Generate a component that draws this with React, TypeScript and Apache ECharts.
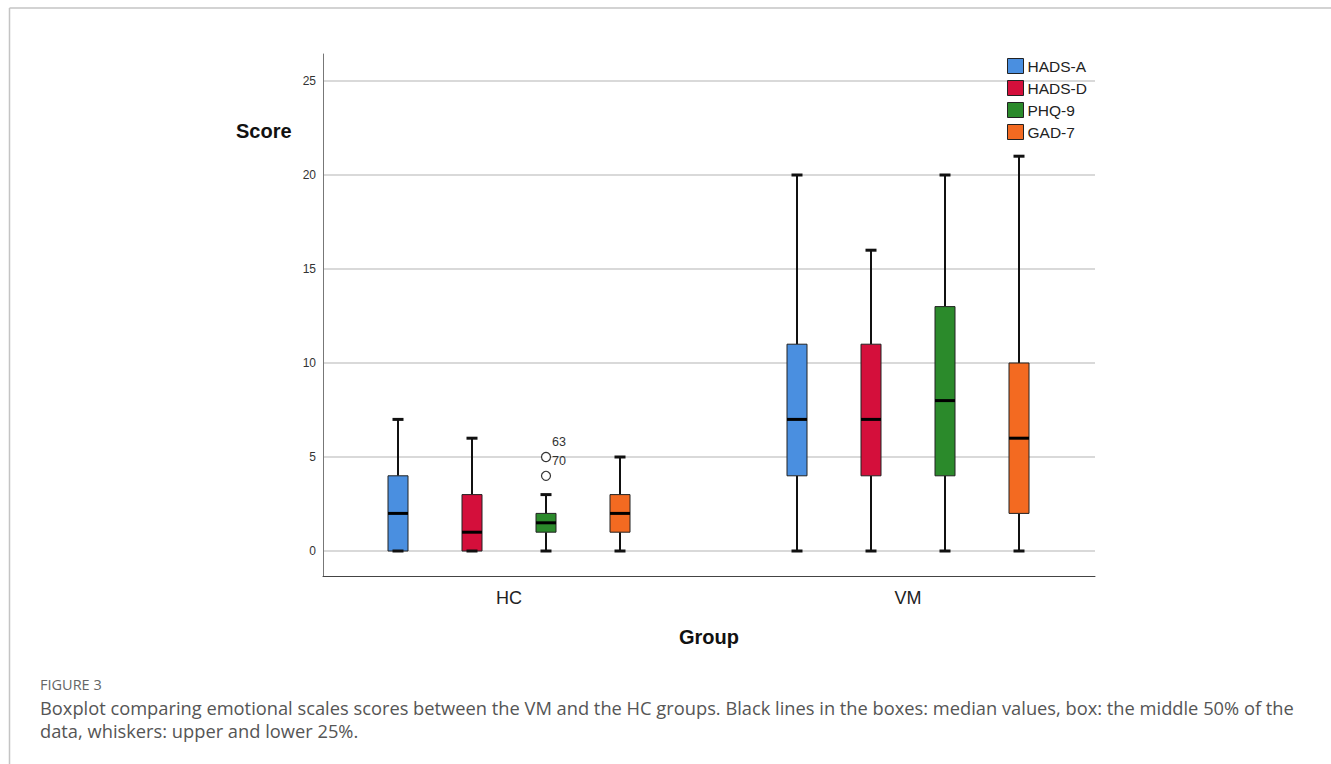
import React, { useEffect, useRef } from 'react';
import * as echarts from 'echarts';

// ---- data ----
const groups = ['HC', 'VM'];
const measures = ['HADS-A', 'HADS-D', 'PHQ-9', 'GAD-7'];
const colors = ['#4a8fe0', '#d40f3b', '#2b8a2b', '#f36a21'];
// [min, Q1, median, Q3, max] for HC, VM
const hadsA = [[0, 0, 2, 4, 7], [0, 4, 7, 11, 20]];
const hadsD = [[0, 0, 1, 3, 6], [0, 4, 7, 11, 16]];
const phq9 = [[0, 1, 1.5, 2, 3], [0, 4, 8, 13, 20]];
const gad7 = [[0, 1, 2, 3, 5], [0, 2, 6, 10, 21]];
const outlierValues = [5, 4];
const outlierIds = ['63', '70'];
const outlierGroup = 0;
const outlierMeasure = 2;
const yTicks = [0, 5, 10, 15, 20, 25];
const xTicks = [0, 1];

const stats = [hadsA, hadsD, phq9, gad7];

// ---- layout ----
const SPACING = 74 / 399; // offset between boxes in x-units
const BOX_W = 20;
const CAP_W = 11;
const FONT = "'Liberation Sans', Arial, sans-serif";
const CAPTION_FONT = "'Open Sans', sans-serif";

const xOf = (gi: number, mi: number) => gi + (mi - (measures.length - 1) / 2) * SPACING;

const renderItem = (params: any, api: any) => {
  const x = api.value(0);
  const c = (v: number) => api.coord([x, v]);
  const pMin = c(api.value(1));
  const pQ1 = c(api.value(2));
  const pMed = c(api.value(3));
  const pQ3 = c(api.value(4));
  const pMax = c(api.value(5));
  const cx = pMin[0];
  const hw = BOX_W / 2;
  const cw = CAP_W / 2;
  const color = api.visual('color');
  const k = '#111';
  return {
    type: 'group',
    children: [
      { type: 'line', shape: { x1: cx, y1: pQ1[1], x2: cx, y2: pMin[1] }, style: { stroke: k, lineWidth: 2 } },
      { type: 'line', shape: { x1: cx, y1: pQ3[1], x2: cx, y2: pMax[1] }, style: { stroke: k, lineWidth: 2 } },
      {
        type: 'rect',
        shape: { x: cx - hw, y: pQ3[1], width: BOX_W, height: pQ1[1] - pQ3[1] },
        style: { fill: color, stroke: '#222', lineWidth: 1 },
      },
      { type: 'line', shape: { x1: cx - cw, y1: pMin[1], x2: cx + cw, y2: pMin[1] }, style: { stroke: k, lineWidth: 3 } },
      { type: 'line', shape: { x1: cx - cw, y1: pMax[1], x2: cx + cw, y2: pMax[1] }, style: { stroke: k, lineWidth: 3 } },
      { type: 'line', shape: { x1: cx - hw, y1: pMed[1], x2: cx + hw, y2: pMed[1] }, style: { stroke: '#000', lineWidth: 3 } },
    ],
  };
};

export default function App() {
  const ref = useRef<HTMLDivElement>(null);

  useEffect(() => {
    if (!ref.current) return;
    const chart = echarts.init(ref.current, undefined, { renderer: 'svg' });

    const boxSeries = measures.map((m, mi) => ({
      type: 'custom',
      name: m,
      renderItem,
      itemStyle: { color: colors[mi] },
      encode: { x: 0, y: [1, 2, 3, 4, 5] },
      data: groups.map((g, gi) => [xOf(gi, mi), ...stats[mi][gi]]),
      z: 3,
    }));

    const outlierSeries = {
      type: 'scatter',
      name: 'outliers',
      symbol: 'circle',
      symbolSize: 9,
      itemStyle: { color: '#fff', borderColor: '#333', borderWidth: 1.2, opacity: 1 },
      label: {
        show: true,
        position: 'right',
        offset: [-4, -15],
        formatter: (p: any) => outlierIds[p.dataIndex],
        fontSize: 12.5,
        color: '#333',
        fontFamily: FONT,
      },
      data: outlierValues.map((v) => [xOf(outlierGroup, outlierMeasure), v]),
      z: 4,
    };

    chart.setOption({
      animation: false,
      backgroundColor: '#fff',
      grid: { left: 323, right: 236, top: 54, bottom: 188, containLabel: false },
      legend: {
        data: measures,
        orient: 'vertical',
        left: 1007,
        top: 58,
        padding: 0,
        icon: 'rect',
        itemWidth: 16,
        itemHeight: 15,
        itemGap: 6,
        itemStyle: { borderColor: '#222', borderWidth: 1 },
        textStyle: { fontSize: 15.5, color: '#222', fontFamily: FONT, padding: [0, 0, 0, -1] },
      },
      xAxis: {
        type: 'value',
        min: (323 - 509) / 399,
        max: 1 + (1095 - 908) / 399,
        name: 'Group',
        nameLocation: 'middle',
        nameGap: 51,
        nameTextStyle: { fontSize: 20, fontWeight: 'bold', color: '#111', fontFamily: FONT },
        axisLine: { show: true, onZero: false, lineStyle: { color: '#444', width: 1 } },
        axisTick: { show: false, customValues: xTicks },
        splitLine: { show: false },
        axisLabel: {
          customValues: xTicks,
          formatter: (v: number) => groups[Math.round(v)] ?? '',
          fontSize: 18,
          color: '#222',
          margin: 13,
          fontFamily: FONT,
        },
      },
      yAxis: {
        type: 'value',
        min: (551 - 576) / 18.8,
        max: (551 - 54) / 18.8,
        axisLine: { show: true, onZero: false, lineStyle: { color: '#777', width: 1 } },
        axisTick: { show: false, customValues: yTicks },
        axisLabel: {
          customValues: yTicks,
          fontSize: 12,
          color: '#333',
          margin: 7,
          fontFamily: FONT,
        },
        splitLine: { show: true, lineStyle: { color: '#cccccc', width: 1.5 } },
      },
      graphic: [
        { type: 'line', shape: { x1: 9.5, y1: 8, x2: 1331, y2: 8 }, style: { stroke: '#c4c4c4', lineWidth: 1.5 } },
        { type: 'line', shape: { x1: 9.5, y1: 8, x2: 9.5, y2: 764 }, style: { stroke: '#c4c4c4', lineWidth: 1.5 } },
        {
          type: 'text',
          left: 236,
          top: 121,
          style: { text: 'Score', fontSize: 20, fontWeight: 'bold', fill: '#111', fontFamily: FONT },
        },
        {
          type: 'text',
          left: 40,
          top: 677,
          style: { text: 'FIGURE 3', fontSize: 14.5, fill: '#666', fontFamily: CAPTION_FONT },
        },
        {
          type: 'text',
          left: 40,
          top: 698,
          style: {
            text: 'Boxplot comparing emotional scales scores between the VM and the HC groups. Black lines in the boxes: median values, box: the middle 50% of the',
            fontSize: 18.3,
            fill: '#555',
            fontFamily: CAPTION_FONT,
          },
        },
        {
          type: 'text',
          left: 40,
          top: 721,
          style: {
            text: 'data, whiskers: upper and lower 25%.',
            fontSize: 18.3,
            fill: '#555',
            fontFamily: CAPTION_FONT,
          },
        },
      ],
      series: [...boxSeries, outlierSeries],
    });

    return () => chart.dispose();
  }, []);

  return (
    <div
      ref={ref}
      style={{ position: 'fixed', left: 0, top: 0, width: 1331, height: 764, background: '#fff' }}
    />
  );
}
